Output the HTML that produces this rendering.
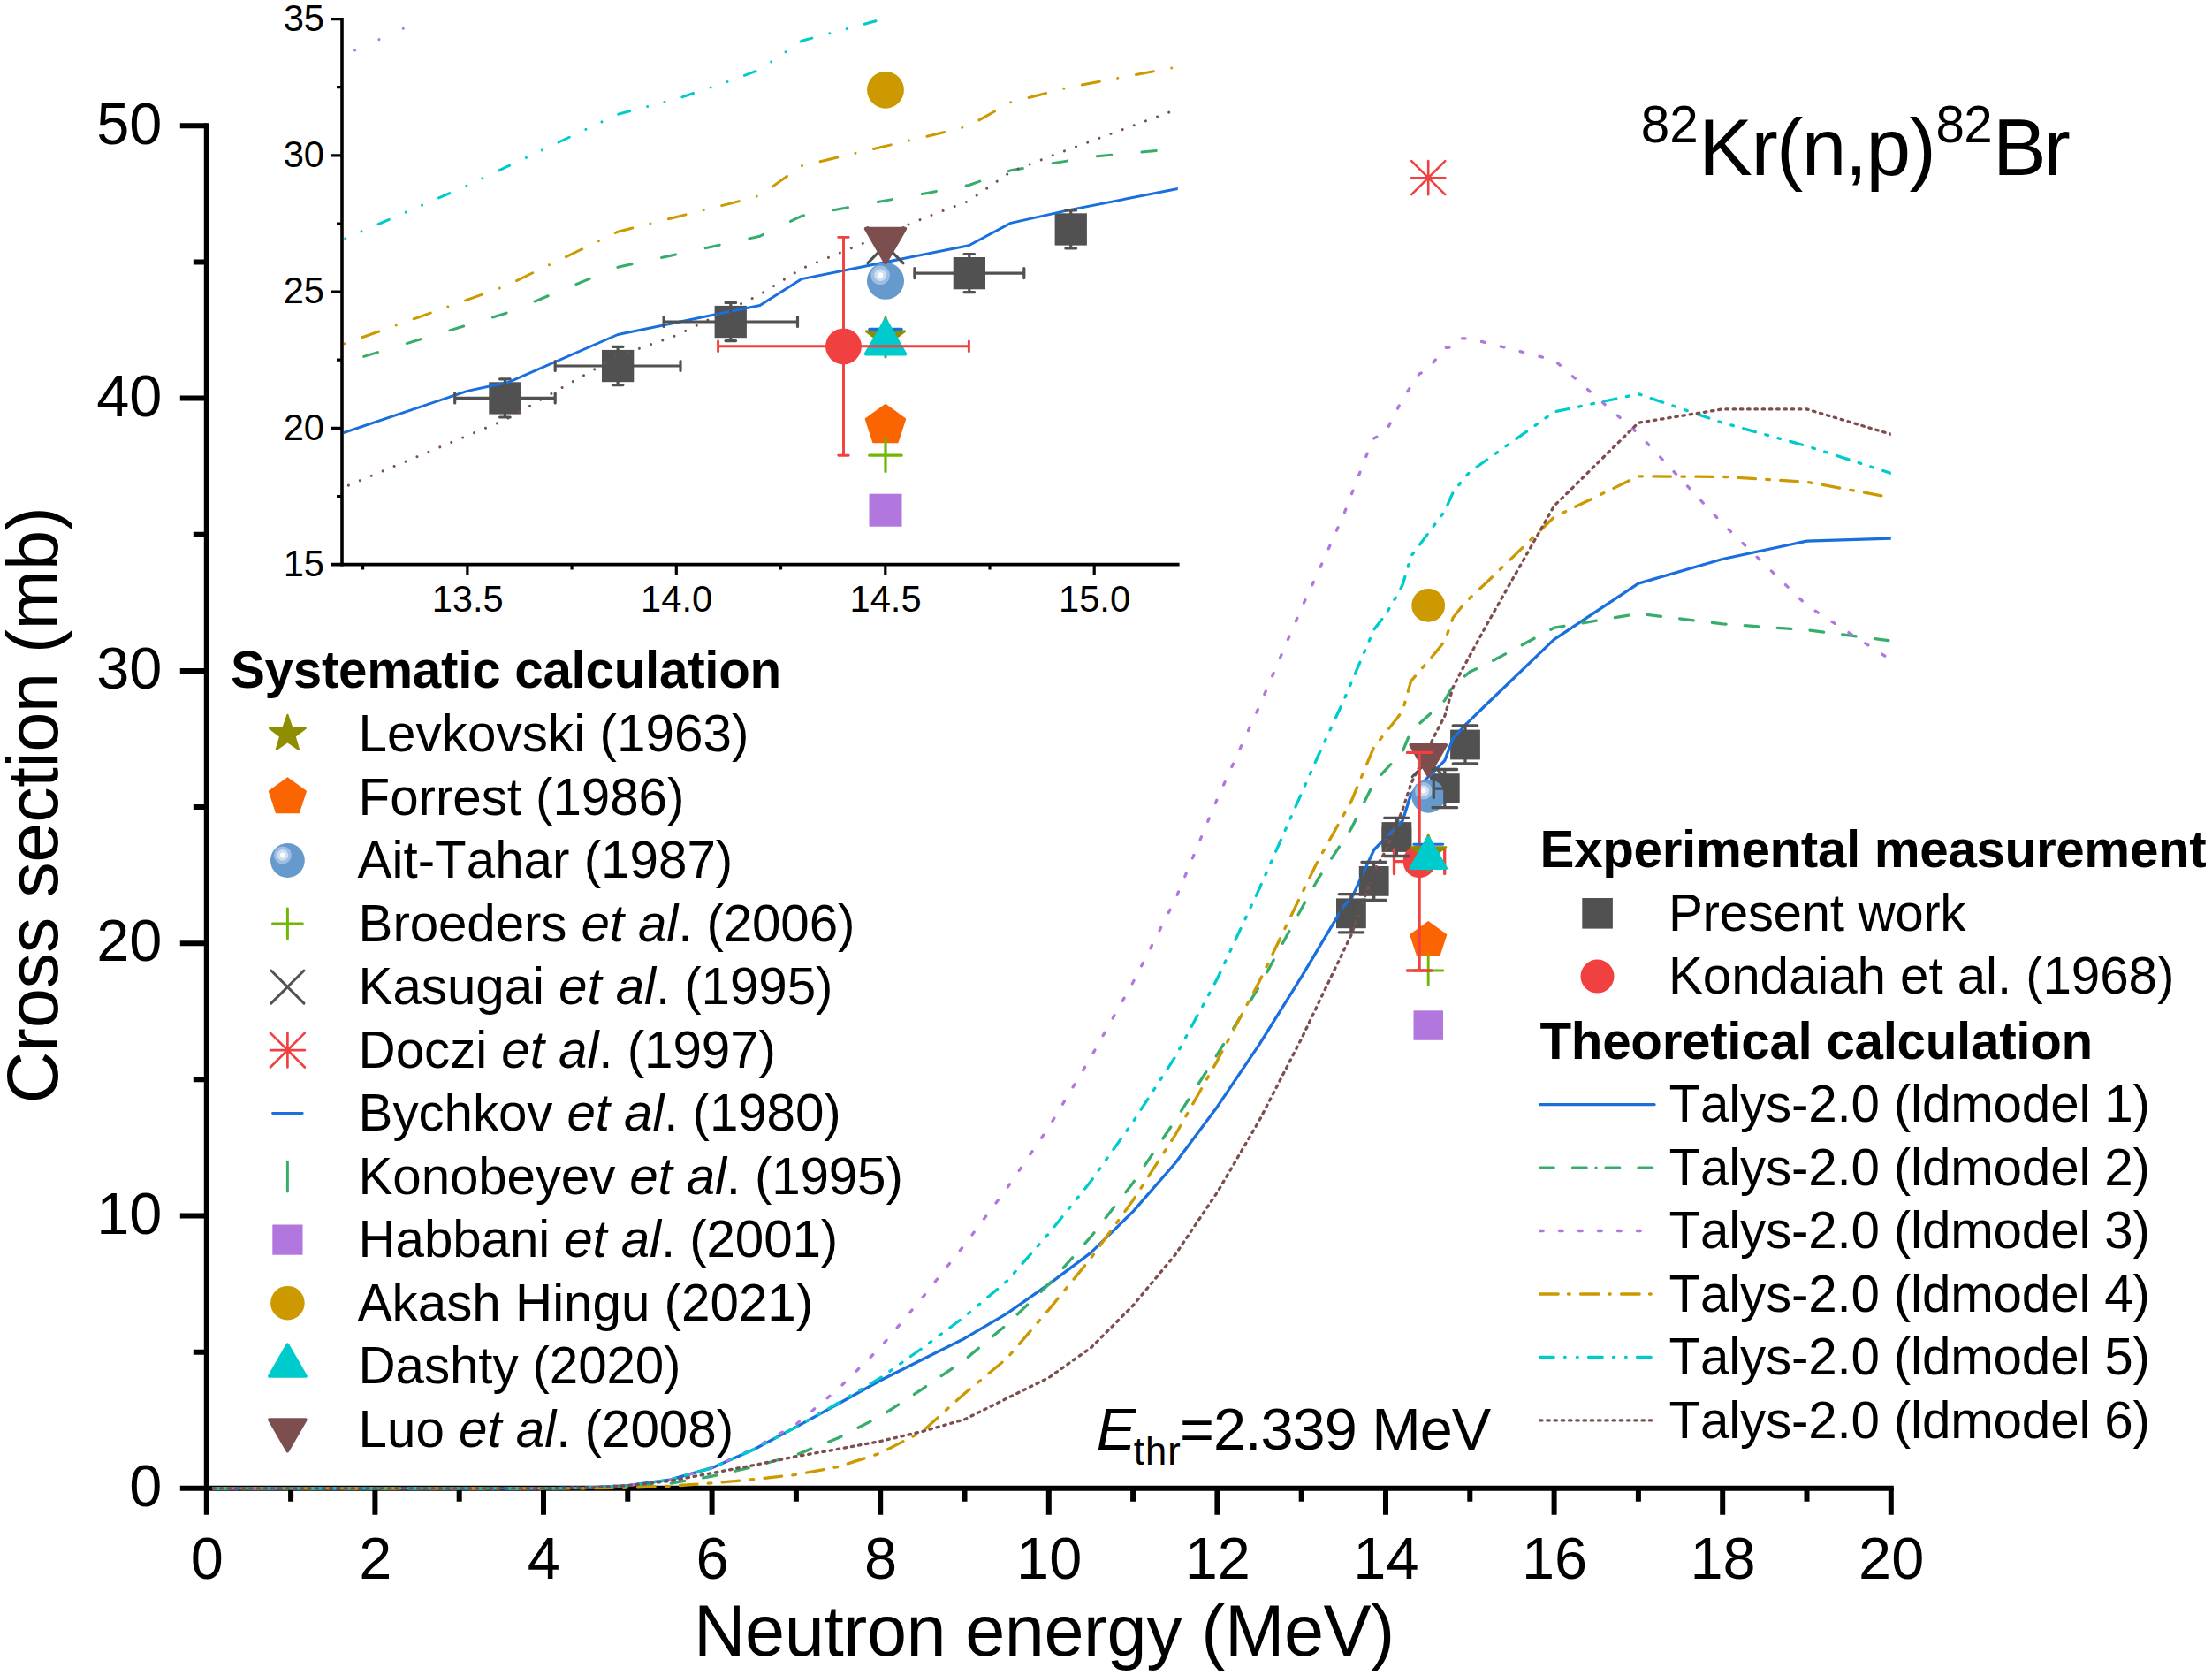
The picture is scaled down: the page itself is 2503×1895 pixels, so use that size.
<!DOCTYPE html><html><head><meta charset="utf-8"><title>82Kr(n,p)82Br cross section</title>
<style>html,body{margin:0;padding:0;background:#fff}svg{display:block}text{font-family:"Liberation Sans", sans-serif;fill:#000;font-kerning:none;white-space:pre}</style></head><body>
<svg width="2503" height="1895" viewBox="0 0 2503 1895">
<defs>
<clipPath id="cm"><rect x="236.8" y="0" width="1903.0" height="1686.8"/></clipPath>
<clipPath id="ci"><rect x="388.8" y="21.6" width="944.0" height="615.5"/></clipPath>
</defs>
<rect width="2503" height="1895" fill="#fff"/>
<g stroke="#000" stroke-width="6" fill="none" stroke-linecap="butt">
<path d="M233.8,139.3V1713.8"/>
<path d="M203.8,1683.8H2142.8"/>
<path d="M329.1,1683.8v15M424.4,1683.8v30M519.7,1683.8v15M615.0,1683.8v30M710.3,1683.8v15M805.6,1683.8v30M900.9,1683.8v15M996.2,1683.8v30M1091.5,1683.8v15M1186.8,1683.8v30M1282.1,1683.8v15M1377.4,1683.8v30M1472.7,1683.8v15M1568.0,1683.8v30M1663.3,1683.8v15M1758.6,1683.8v30M1853.9,1683.8v15M1949.2,1683.8v30M2044.5,1683.8v15M2139.8,1683.8v30M233.8,1529.7h-15M233.8,1375.5h-30M233.8,1221.3h-15M233.8,1067.2h-30M233.8,913.0h-15M233.8,758.9h-30M233.8,604.8h-15M233.8,450.6h-30M233.8,296.5h-15M233.8,142.3h-30"/></g>
<g>
<rect x="1512.0" y="1016.4" width="33.8" height="33.8" fill="#515151"/>
<rect x="1537.8" y="980.0" width="33.8" height="33.8" fill="#515151"/>
<rect x="1563.5" y="930.1" width="33.8" height="33.8" fill="#515151"/>
<rect x="1617.9" y="875.2" width="33.8" height="33.8" fill="#515151"/>
<rect x="1641.1" y="825.6" width="33.8" height="33.8" fill="#515151"/>
</g>
<g clip-path="url(#cm)" fill="none" stroke-width="3.3" stroke-linejoin="round" stroke-linecap="round">
<polyline points="241.4,1683.8 615.0,1683.8 662.6,1683.2 710.3,1680.7 758.0,1674.2 805.6,1660.7 853.2,1639.7 900.9,1614.4 948.5,1588.2 996.2,1561.7 1043.8,1538.0 1091.5,1514.2 1139.2,1486.2 1186.8,1452.9 1234.5,1417.1 1282.1,1370.6 1329.8,1316.0 1377.4,1252.2 1425.0,1181.6 1472.7,1105.1 1491.8,1073.1 1520.3,1025.3 1529.9,1015.1 1554.7,961.5 1587.1,928.5 1596.6,898.6 1634.7,860.6 1644.2,835.4 1657.6,820.6 1682.4,796.5 1758.6,723.4 1853.9,660.2 1949.2,632.5 2044.5,612.1 2139.8,609.1" stroke="#1A6FDF"/>
<polyline points="241.4,1683.8 615.0,1683.8 662.6,1683.5 710.3,1682.0 758.0,1678.3 805.6,1670.2 853.2,1659.4 900.9,1645.9 948.5,1626.8 996.2,1602.4 1043.8,1571.3 1091.5,1538.6 1139.2,1498.5 1186.8,1452.9 1234.5,1399.2 1282.1,1338.2 1329.8,1267.6 1377.4,1193.0 1425.0,1115.9 1472.7,1028.0 1491.8,993.8 1528.9,937.7 1554.7,885.3 1587.1,850.2 1596.6,827.3 1625.2,801.4 1634.7,792.5 1644.2,775.9 1653.8,767.8 1663.3,760.1 1682.4,751.2 1758.6,710.2 1853.9,694.2 1949.2,705.9 2044.5,712.7 2139.8,725.0" stroke="#37AD6B" stroke-dasharray="15.70 21.30"/>
<polyline points="241.4,1683.8 615.0,1683.8 662.6,1683.2 710.3,1680.7 758.0,1674.2 805.6,1660.7 853.2,1638.5 900.9,1611.3 948.5,1571.3 996.2,1524.4 1043.8,1468.0 1091.5,1408.2 1139.2,1344.7 1186.8,1275.3 1234.5,1195.8 1282.1,1111.3 1329.8,1017.9 1377.4,903.8 1425.0,799.0 1472.7,688.0 1491.8,646.7 1520.3,582.6 1547.0,513.2 1554.7,495.9 1568.0,488.8 1587.1,451.2 1606.1,422.9 1615.6,418.5 1634.7,393.3 1644.2,392.9 1653.8,382.8 1663.3,383.1 1758.6,407.4 1853.9,490.7 1949.2,592.4 2044.5,684.9 2139.8,746.6" stroke="#B177DE" stroke-dasharray="3.70 18.80"/>
<polyline points="241.4,1683.8 615.0,1683.8 662.6,1683.8 710.3,1683.2 758.0,1681.3 805.6,1677.9 853.2,1673.6 900.9,1668.4 948.5,1659.4 996.2,1644.0 1043.8,1619.4 1091.5,1576.5 1139.2,1537.0 1186.8,1481.6 1234.5,1423.3 1282.1,1357.9 1329.8,1284.2 1377.4,1200.1 1425.0,1110.4 1472.7,1011.7 1491.8,972.9 1528.9,906.9 1554.7,845.2 1580.4,813.2 1587.1,804.2 1596.6,770.6 1625.2,737.3 1634.7,725.6 1644.2,698.8 1657.6,681.8 1682.4,658.7 1758.6,585.0 1853.9,538.8 1949.2,539.4 2044.5,545.2 2139.8,562.8" stroke="#CC9900" stroke-dasharray="19.70 12.30 3.70 12.30"/>
<polyline points="241.4,1683.8 615.0,1683.8 662.6,1683.2 710.3,1680.7 758.0,1674.2 805.6,1660.7 853.2,1639.7 900.9,1614.4 948.5,1587.3 996.2,1558.9 1043.8,1525.0 1091.5,1489.6 1139.2,1449.5 1186.8,1395.5 1234.5,1336.3 1282.1,1269.1 1329.8,1195.8 1377.4,1107.3 1425.0,1005.5 1472.7,897.6 1491.8,854.5 1520.3,792.8 1554.7,712.3 1568.0,695.1 1580.4,674.4 1587.1,661.8 1596.6,629.4 1634.7,578.5 1644.2,557.0 1657.6,540.0 1663.3,533.8 1758.6,466.0 1853.9,445.7 1949.2,478.3 2044.5,504.6 2139.8,535.4" stroke="#00CBCC" stroke-dasharray="14.20 11.80 2.70 11.80 2.70 11.80"/>
<polyline points="241.4,1683.8 615.0,1683.8 662.6,1683.2 710.3,1680.7 758.0,1675.5 805.6,1666.5 853.2,1657.6 900.9,1647.7 948.5,1639.4 996.2,1630.5 1043.8,1619.4 1091.5,1605.8 1139.2,1582.1 1186.8,1558.6 1234.5,1524.7 1282.1,1476.9 1329.8,1419.6 1377.4,1349.0 1425.0,1267.6 1472.7,1175.1 1491.8,1135.0 1528.9,1058.0 1554.7,985.8 1568.0,962.4 1587.1,916.1 1596.6,886.8 1625.2,828.3 1634.7,810.4 1644.2,777.4 1653.8,758.9 1682.4,706.5 1758.6,572.4 1853.9,478.3 1949.2,462.9 2044.5,462.9 2139.8,491.3" stroke="#7D4E4E" stroke-dasharray="2.50 5.75"/>
</g>
<g>
<polygon points="1616.2,1042.8 1636.6,1057.5 1628.8,1081.4 1603.7,1081.4 1595.9,1057.5" fill="#FB6501" stroke="#FB6501" stroke-width="1.4" stroke-linejoin="round"/>
<circle cx="1616.2" cy="900.7" r="19.0" fill="#6699CC"/><circle cx="1610.9" cy="894.8" r="9.8" fill="#9cbfe3"/><circle cx="1610.9" cy="894.8" r="6.2" fill="#cfe0f2"/><circle cx="1610.9" cy="894.8" r="2.7" fill="#ffffff"/>
<path d="M1599.7,1098.0H1632.8M1616.2,1081.5V1114.5" stroke="#6FB802" stroke-width="2.90" stroke-linecap="round" fill="none"/>
<path d="M1598.1,842.5L1634.4,878.8M1598.1,878.8L1634.4,842.5" stroke="#515151" stroke-width="2.90" stroke-linecap="round" fill="none"/>
<path d="M1597.2,182.1L1635.3,220.2M1597.2,220.2L1635.3,182.1M1597.2,201.2H1635.3M1616.2,182.1V220.2" stroke="#F14040" stroke-width="2.61" stroke-linecap="round" fill="none"/>
<rect x="1599.5" y="1143.3" width="33.5" height="33.5" fill="#B177DE"/>
<circle cx="1616.2" cy="684.9" r="18.9" fill="#CC9900"/>
<polygon points="1596.2,842.8 1636.3,842.8 1616.2,877.7" fill="#7D4E4E" stroke="#7D4E4E" stroke-width="3.6" stroke-linejoin="round"/>
<path d="M1577.5,974.7H1634.7M1577.5,960.9V988.5M1634.7,960.9V988.5" stroke="#F14040" stroke-width="3.3" stroke-linecap="round" fill="none"/><path d="M1606.1,851.4V1098.0M1592.4,851.4H1619.9M1592.4,1098.0H1619.9" stroke="#F14040" stroke-width="3.3" stroke-linecap="round" fill="none"/>
<circle cx="1606.1" cy="974.7" r="18.5" fill="#F14040"/>
<path d="M1517.5,1033.3H1540.4M1517.5,1022.8V1043.8M1540.4,1022.8V1043.8" stroke="#515151" stroke-width="3.3" stroke-linecap="round" fill="none"/><path d="M1528.9,1011.7V1054.9M1515.2,1011.7H1542.7M1515.2,1054.9H1542.7" stroke="#515151" stroke-width="3.3" stroke-linecap="round" fill="none"/>
<path d="M1540.4,996.9H1569.0M1540.4,986.4V1007.4M1569.0,986.4V1007.4" stroke="#515151" stroke-width="3.3" stroke-linecap="round" fill="none"/><path d="M1554.7,975.3V1018.5M1540.9,975.3H1568.4M1540.9,1018.5H1568.4" stroke="#515151" stroke-width="3.3" stroke-linecap="round" fill="none"/>
<path d="M1565.1,947.0H1595.6M1565.1,936.5V957.5M1595.6,936.5V957.5" stroke="#515151" stroke-width="3.3" stroke-linecap="round" fill="none"/><path d="M1580.4,925.4V968.5M1566.6,925.4H1594.1M1566.6,968.5H1594.1" stroke="#515151" stroke-width="3.3" stroke-linecap="round" fill="none"/>
<path d="M1622.3,892.1H1647.3M1622.3,881.6V902.6M1647.3,881.6V902.6" stroke="#515151" stroke-width="3.3" stroke-linecap="round" fill="none"/><path d="M1634.8,870.5V913.7M1621.1,870.5H1648.6M1621.1,913.7H1648.6" stroke="#515151" stroke-width="3.3" stroke-linecap="round" fill="none"/>
<path d="M1656.1,842.4H1659.9M1656.1,831.9V852.9M1659.9,831.9V852.9" stroke="#515151" stroke-width="3.3" stroke-linecap="round" fill="none"/><path d="M1658.0,820.9V864.0M1644.2,820.9H1671.7M1644.2,864.0H1671.7" stroke="#515151" stroke-width="3.3" stroke-linecap="round" fill="none"/>
<polygon points="1616.2,943.8 1621.2,958.0 1636.2,958.4 1624.2,967.4 1628.6,981.8 1616.2,973.2 1603.9,981.8 1608.3,967.4 1596.3,958.4 1611.3,958.0" fill="#8E8E00" stroke="#8E8E00" stroke-width="2.2" stroke-linejoin="round"/>
<path d="M1599.8,955.3H1632.7" stroke="#1A6FDF" stroke-width="2.90" stroke-linecap="round" fill="none"/>
<path d="M1616.2,952.1V985.0" stroke="#37AD6B" stroke-width="2.90" stroke-linecap="round" fill="none"/>
<polygon points="1616.2,947.5 1636.3,982.3 1596.2,982.3" fill="#00CBCC" stroke="#00CBCC" stroke-width="3.6" stroke-linejoin="round"/>
</g>
<g stroke="#000" stroke-width="3.6" fill="none">
<path d="M387.0,20.0V640.4"/>
<path d="M374.8,638.6H1334.6"/>
<path d="M387.0,561.5h-6.0M387.0,484.4h-12.2M387.0,407.2h-6.0M387.0,330.1h-12.2M387.0,253.0h-6.0M387.0,175.9h-12.2M387.0,98.7h-6.0M387.0,21.6h-12.2M410.6,638.6v6.0M528.9,638.6v11.8M647.1,638.6v6.0M765.3,638.6v11.8M883.5,638.6v6.0M1001.8,638.6v11.8M1120.0,638.6v6.0M1238.2,638.6v11.8" stroke-width="3.2"/></g>
<g>
<rect x="553.3" y="432.3" width="36.3" height="36.3" fill="#515151"/>
<rect x="681.0" y="395.9" width="36.3" height="36.3" fill="#515151"/>
<rect x="808.6" y="345.9" width="36.3" height="36.3" fill="#515151"/>
<rect x="1078.7" y="291.0" width="36.3" height="36.3" fill="#515151"/>
<rect x="1193.6" y="241.3" width="36.3" height="36.3" fill="#515151"/>
<circle cx="954.5" cy="391.8" r="20.4" fill="#F14040"/>
</g>
<g clip-path="url(#ci)" fill="none" stroke-width="3.0" stroke-linejoin="round" stroke-linecap="round">
<polyline points="387.0,490.2 528.9,442.4 576.2,432.2 699.1,378.5 859.9,345.5 907.2,315.6 1096.3,277.7 1143.6,252.4 1209.8,237.6 1332.8,213.5 1711.1,140.4" stroke="#1A6FDF"/>
<polyline points="387.0,410.9 571.4,354.8 699.1,302.3 859.9,267.2 907.2,244.3 1049.1,218.4 1096.3,209.5 1143.6,192.8 1190.9,184.8 1238.2,177.1 1332.8,168.1 1711.1,127.1" stroke="#37AD6B" stroke-dasharray="16.50 34.30" stroke-dashoffset="25"/>
<polyline points="387.0,63.6 528.9,-0.6 661.3,-70.0 699.1,-87.3 765.3,-94.4 859.9,-132.0 954.5,-160.4 1001.8,-164.7 1096.3,-190.0 1143.6,-190.3 1190.9,-200.5 1238.2,-200.2 1711.1,-175.8" stroke="#B177DE" stroke-dasharray="0.01 30.00" stroke-dashoffset="14"/>
<polyline points="387.0,389.9 571.4,323.9 699.1,262.2 826.8,230.1 859.9,221.2 907.2,187.6 1049.1,154.3 1096.3,142.5 1143.6,115.7 1209.8,98.7 1332.8,75.6 1711.1,1.9" stroke="#CC9900" stroke-dasharray="20.20 20.80 0.01 21.10" stroke-dashoffset="38"/>
<polyline points="387.0,271.5 528.9,209.8 699.1,129.3 765.3,112.0 826.8,91.3 859.9,78.7 907.2,46.3 1096.3,-4.6 1143.6,-26.2 1209.8,-43.2 1238.2,-49.4 1711.1,-117.2" stroke="#00CBCC" stroke-dasharray="13.40 20.70 0.01 19.90 0.01 20.70" stroke-dashoffset="30"/>
<polyline points="387.0,552.2 571.4,475.1 699.1,402.9 765.3,379.5 859.9,333.2 907.2,303.9 1049.1,245.3 1096.3,227.4 1143.6,194.4 1190.9,175.9 1332.8,123.4 1711.1,-10.8" stroke="#7D4E4E" stroke-dasharray="0.01 14.00" stroke-dashoffset="6"/>
</g>
<g>
<polygon points="1002.0,358.7 1007.4,374.4 1024.0,374.8 1010.8,384.8 1015.6,400.7 1002.0,391.2 988.3,400.7 993.1,384.8 979.9,374.8 996.5,374.4" fill="#8E8E00" stroke="#8E8E00" stroke-width="2.4" stroke-linejoin="round"/>
<polygon points="1002.0,457.7 1024.4,474.0 1015.8,500.4 988.1,500.4 979.5,474.0" fill="#FB6501" stroke="#FB6501" stroke-width="1.6" stroke-linejoin="round"/>
<circle cx="1002.0" cy="317.8" r="21.0" fill="#6699CC"/><circle cx="996.1" cy="311.3" r="10.8" fill="#9cbfe3"/><circle cx="996.1" cy="311.3" r="6.8" fill="#cfe0f2"/><circle cx="996.1" cy="311.3" r="3.0" fill="#ffffff"/>
<path d="M983.7,515.2H1020.2M1002.0,497.0V533.5" stroke="#6FB802" stroke-width="3.20" stroke-linecap="round" fill="none"/>
<path d="M981.9,257.6L1022.0,297.7M981.9,297.7L1022.0,257.6" stroke="#515151" stroke-width="3.20" stroke-linecap="round" fill="none"/>
<path d="M983.8,372.4H1020.1" stroke="#1A6FDF" stroke-width="3.20" stroke-linecap="round" fill="none"/>
<path d="M1002.0,367.5V403.8" stroke="#37AD6B" stroke-width="3.20" stroke-linecap="round" fill="none"/>
<rect x="983.5" y="558.7" width="37.0" height="37.0" fill="#B177DE"/>
<circle cx="1002.0" cy="101.8" r="20.9" fill="#CC9900"/>
<polygon points="1002.0,362.1 1024.2,400.6 979.8,400.6" fill="#00CBCC" stroke="#00CBCC" stroke-width="4.0" stroke-linejoin="round"/>
<polygon points="979.8,258.7 1024.2,258.7 1002.0,297.2" fill="#7D4E4E" stroke="#7D4E4E" stroke-width="4.0" stroke-linejoin="round"/>
<path d="M514.7,450.4H628.2M514.7,444.9V455.9M628.2,444.9V455.9" stroke="#515151" stroke-width="3.2" stroke-linecap="round" fill="none"/><path d="M571.4,428.8V472.0M565.6,428.8H577.2M565.6,472.0H577.2" stroke="#515151" stroke-width="3.2" stroke-linecap="round" fill="none"/>
<path d="M628.2,414.0H770.0M628.2,408.5V419.5M770.0,408.5V419.5" stroke="#515151" stroke-width="3.2" stroke-linecap="round" fill="none"/><path d="M699.1,392.4V435.6M693.3,392.4H704.9M693.3,435.6H704.9" stroke="#515151" stroke-width="3.2" stroke-linecap="round" fill="none"/>
<path d="M751.1,364.0H902.5M751.1,358.5V369.5M902.5,358.5V369.5" stroke="#515151" stroke-width="3.2" stroke-linecap="round" fill="none"/><path d="M826.8,342.4V385.6M821.0,342.4H832.6M821.0,385.6H832.6" stroke="#515151" stroke-width="3.2" stroke-linecap="round" fill="none"/>
<path d="M1034.9,309.1H1158.8M1034.9,303.6V314.6M1158.8,303.6V314.6" stroke="#515151" stroke-width="3.2" stroke-linecap="round" fill="none"/><path d="M1096.8,287.5V330.7M1091.0,287.5H1102.6M1091.0,330.7H1102.6" stroke="#515151" stroke-width="3.2" stroke-linecap="round" fill="none"/>
<path d="M1202.3,259.5H1221.2M1202.3,254.0V265.0M1221.2,254.0V265.0" stroke="#515151" stroke-width="3.2" stroke-linecap="round" fill="none"/><path d="M1211.7,237.9V281.0M1205.9,237.9H1217.5M1205.9,281.0H1217.5" stroke="#515151" stroke-width="3.2" stroke-linecap="round" fill="none"/>
<path d="M812.6,391.8H1096.4M812.6,385.9V397.7M1096.4,385.9V397.7" stroke="#F14040" stroke-width="2.9" stroke-linecap="round" fill="none"/><path d="M954.5,268.4V515.2M948.7,268.4H960.2M948.7,515.2H960.2" stroke="#F14040" stroke-width="2.9" stroke-linecap="round" fill="none"/>
</g>
<polygon points="325.4,808.9 330.4,823.5 345.8,823.8 333.6,833.1 338.0,847.8 325.4,839.0 312.8,847.8 317.2,833.1 305.0,823.8 320.4,823.5" fill="#8E8E00" stroke="#8E8E00" stroke-width="2.2" stroke-linejoin="round"/>
<polygon points="325.4,880.1 346.2,895.2 338.2,919.6 312.6,919.6 304.6,895.2" fill="#FB6501" stroke="#FB6501" stroke-width="1.5" stroke-linejoin="round"/>
<circle cx="325.4" cy="973.5" r="19.4" fill="#6699CC"/><circle cx="319.9" cy="967.4" r="10.0" fill="#9cbfe3"/><circle cx="319.9" cy="967.4" r="6.3" fill="#cfe0f2"/><circle cx="319.9" cy="967.4" r="2.8" fill="#ffffff"/>
<path d="M308.5,1045.0H342.3M325.4,1028.1V1061.9" stroke="#6FB802" stroke-width="2.96" stroke-linecap="round" fill="none"/>
<path d="M306.8,1098.0L344.0,1135.1M306.8,1135.1L344.0,1098.0" stroke="#515151" stroke-width="2.96" stroke-linecap="round" fill="none"/>
<path d="M305.9,1168.6L344.9,1207.5M305.9,1207.5L344.9,1168.6M305.9,1188.1H344.9M325.4,1168.6V1207.5" stroke="#F14040" stroke-width="2.66" stroke-linecap="round" fill="none"/>
<path d="M308.6,1259.6H342.2" stroke="#1A6FDF" stroke-width="2.96" stroke-linecap="round" fill="none"/>
<path d="M325.4,1314.3V1347.9" stroke="#37AD6B" stroke-width="2.96" stroke-linecap="round" fill="none"/>
<rect x="308.3" y="1385.5" width="34.2" height="34.2" fill="#B177DE"/>
<circle cx="325.4" cy="1474.2" r="19.3" fill="#CC9900"/>
<polygon points="325.4,1521.3 345.9,1557.0 304.9,1557.0" fill="#00CBCC" stroke="#00CBCC" stroke-width="3.7" stroke-linejoin="round"/>
<polygon points="304.9,1606.0 345.9,1606.0 325.4,1641.6" fill="#7D4E4E" stroke="#7D4E4E" stroke-width="3.7" stroke-linejoin="round"/>
<rect x="1790.3" y="1016.0" width="34.6" height="34.6" fill="#515151"/>
<circle cx="1807.5" cy="1104.6" r="19.0" fill="#F14040"/>
<path d="M1742.5,1249.6H1872" stroke="#1A6FDF" stroke-width="3.3" stroke-linecap="round" fill="none"/>
<path d="M1742.5,1321.1H1872" stroke="#37AD6B" stroke-width="3.3" stroke-linecap="round" fill="none" stroke-dasharray="15.70 21.30 15.70 10.80 0.20 10.80 15.70 21.30 15.70"/>
<path d="M1742.5,1392.5H1872" stroke="#B177DE" stroke-width="3.3" stroke-linecap="round" fill="none" stroke-dasharray="3.70 18.30"/>
<path d="M1742.5,1464.0H1872" stroke="#CC9900" stroke-width="3.3" stroke-linecap="round" fill="none" stroke-dasharray="20.70 11.30 1.70 12.30"/>
<path d="M1742.5,1535.4H1872" stroke="#00CBCC" stroke-width="3.3" stroke-linecap="round" fill="none" stroke-dasharray="15.70 12.30 0.70 13.30 0.70 12.30"/>
<path d="M1742.5,1606.9H1872" stroke="#7D4E4E" stroke-width="3.3" stroke-linecap="round" fill="none" stroke-dasharray="2.50 5.75"/>
<g>
<text id="xt0" x="234.20" y="1786.40" font-size="66.67" text-anchor="middle">0</text>
<text id="xt2" x="424.80" y="1786.40" font-size="66.67" text-anchor="middle">2</text>
<text id="xt4" x="615.40" y="1786.40" font-size="66.67" text-anchor="middle">4</text>
<text id="xt6" x="806.00" y="1786.40" font-size="66.67" text-anchor="middle">6</text>
<text id="xt8" x="996.60" y="1786.40" font-size="66.67" text-anchor="middle">8</text>
<text id="xt10" x="1187.20" y="1786.40" font-size="66.67" text-anchor="middle">10</text>
<text id="xt12" x="1377.80" y="1786.40" font-size="66.67" text-anchor="middle">12</text>
<text id="xt14" x="1568.40" y="1786.40" font-size="66.67" text-anchor="middle">14</text>
<text id="xt16" x="1759.00" y="1786.40" font-size="66.67" text-anchor="middle">16</text>
<text id="xt18" x="1949.60" y="1786.40" font-size="66.67" text-anchor="middle">18</text>
<text id="xt20" x="2140.20" y="1786.40" font-size="66.67" text-anchor="middle">20</text>
<text id="yt0" x="183.40" y="1704.00" font-size="66.67" text-anchor="end">0</text>
<text id="yt10" x="183.40" y="1395.70" font-size="66.67" text-anchor="end">10</text>
<text id="yt20" x="183.40" y="1087.40" font-size="66.67" text-anchor="end">20</text>
<text id="yt30" x="183.40" y="779.10" font-size="66.67" text-anchor="end">30</text>
<text id="yt40" x="183.40" y="470.80" font-size="66.67" text-anchor="end">40</text>
<text id="yt50" x="183.40" y="162.50" font-size="66.67" text-anchor="end">50</text>
<text id="iy15" x="367.00" y="651.80" font-size="41.67" text-anchor="end">15</text>
<text id="iy20" x="367.00" y="497.55" font-size="41.67" text-anchor="end">20</text>
<text id="iy25" x="367.00" y="343.30" font-size="41.67" text-anchor="end">25</text>
<text id="iy30" x="367.00" y="189.05" font-size="41.67" text-anchor="end">30</text>
<text id="iy35" x="367.00" y="34.80" font-size="41.67" text-anchor="end">35</text>
<text id="ix135" x="529.17" y="691.80" font-size="41.67" text-anchor="middle">13.5</text>
<text id="ix140" x="765.62" y="691.80" font-size="41.67" text-anchor="middle">14.0</text>
<text id="ix145" x="1002.07" y="691.80" font-size="41.67" text-anchor="middle">14.5</text>
<text id="ix150" x="1238.52" y="691.80" font-size="41.67" text-anchor="middle">15.0</text>
<text id="xlab" x="785.00" y="1873.10" font-size="81.0" textLength="793.14">Neutron energy (MeV)</text>
<text id="ylab" transform="translate(65.10,1248.20) rotate(-90)" font-size="81.0" textLength="674.94">Cross section (mb)</text>
<text id="t_s1" x="1856.80" y="161.00" font-size="58.33" textLength="64.79">82</text>
<text id="t_kr" x="1922.30" y="197.70" font-size="91.0" textLength="268.42">Kr(n,p)</text>
<text id="t_s2" x="2190.60" y="161.00" font-size="58.33" textLength="64.19">82</text>
<text id="t_br" x="2255.00" y="197.70" font-size="91.0" textLength="87.90">Br</text>
<text id="e_E" x="1240.70" y="1639.70" font-size="66.67" font-style="italic" textLength="44.37">E</text>
<text id="e_thr" x="1282.80" y="1657.30" font-size="43.5" textLength="52.87">thr</text>
<text id="e_val" x="1335.10" y="1639.70" font-size="66.67" textLength="352.11">=2.339 MeV</text>
<text id="h_sys" x="261.00" y="777.60" font-size="58.33" font-weight="bold" textLength="623.22">Systematic calculation</text>
<text id="l0" x="405.60" y="850.00" font-size="58.33" textLength="441.82">Levkovski (1963)</text>
<text id="l1" x="405.60" y="921.53" font-size="58.33" textLength="368.75">Forrest (1986)</text>
<text id="l2" x="404.60" y="993.06" font-size="58.33">Ait-Tahar (1987)</text>
<text id="l3" x="405.60" y="1064.59" font-size="58.33" textLength="561.86">Broeders <tspan font-style="italic">et al</tspan>. (2006)</text>
<text id="l4" x="405.60" y="1136.12" font-size="58.33" textLength="536.87">Kasugai <tspan font-style="italic">et al</tspan>. (1995)</text>
<text id="l5" x="405.60" y="1207.65" font-size="58.33" textLength="472.43">Doczi <tspan font-style="italic">et al</tspan>. (1997)</text>
<text id="l6" x="405.60" y="1279.18" font-size="58.33" textLength="546.12">Bychkov <tspan font-style="italic">et al</tspan>. (1980)</text>
<text id="l7" x="405.60" y="1350.71" font-size="58.33" textLength="616.24">Konobeyev <tspan font-style="italic">et al</tspan>. (1995)</text>
<text id="l8" x="405.60" y="1422.24" font-size="58.33" textLength="542.65">Habbani <tspan font-style="italic">et al</tspan>. (2001)</text>
<text id="l9" x="404.70" y="1493.77" font-size="58.33">Akash Hingu (2021)</text>
<text id="l10" x="405.60" y="1565.30" font-size="58.33" textLength="364.96">Dashty (2020)</text>
<text id="l11" x="405.60" y="1636.83" font-size="58.33" textLength="424.50">Luo <tspan font-style="italic">et al</tspan>. (2008)</text>
<text id="h_exp" x="1742.60" y="981.20" font-size="58.33" font-weight="bold" textLength="754.13">Experimental measurement</text>
<text id="r_pw" x="1888.05" y="1052.60" font-size="58.33" textLength="336.42">Present work</text>
<text id="r_ko" x="1888.05" y="1124.20" font-size="58.33" textLength="572.32">Kondaiah et al. (1968)</text>
<text id="h_the" x="1742.50" y="1198.00" font-size="58.33" font-weight="bold" textLength="625.68">Theoretical calculation</text>
<text id="r_t0" x="1888.50" y="1269.40" font-size="58.33" textLength="544.43">Talys-2.0 (ldmodel 1)</text>
<text id="r_t1" x="1888.50" y="1340.85" font-size="58.33" textLength="544.43">Talys-2.0 (ldmodel 2)</text>
<text id="r_t2" x="1888.50" y="1412.30" font-size="58.33" textLength="544.43">Talys-2.0 (ldmodel 3)</text>
<text id="r_t3" x="1888.50" y="1483.75" font-size="58.33" textLength="544.43">Talys-2.0 (ldmodel 4)</text>
<text id="r_t4" x="1888.50" y="1555.20" font-size="58.33" textLength="544.43">Talys-2.0 (ldmodel 5)</text>
<text id="r_t5" x="1888.50" y="1626.65" font-size="58.33" textLength="544.43">Talys-2.0 (ldmodel 6)</text>
</g>
</svg></body></html>
